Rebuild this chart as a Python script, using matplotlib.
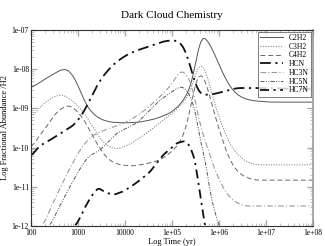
import numpy as np
import matplotlib
matplotlib.use("Agg")
import matplotlib.pyplot as plt
from matplotlib.ticker import FixedLocator, FixedFormatter, LogLocator, NullFormatter

plt.rcParams['font.family'] = ['Liberation Serif', 'DejaVu Serif']

# ---- data (log10 time [yr], log10 abundance) ----
c2h2_lt = [2.00, 2.30, 2.51, 2.68, 2.83, 3.00, 3.15, 3.30, 3.47, 3.68, 4.00, 4.32, 4.64, 4.96, 5.17,
           5.34, 5.45, 5.53, 5.62, 5.72, 5.87, 6.02, 6.17, 6.34, 6.55, 6.77, 7.09, 8.00]
c2h2_ly = [-8.48, -8.25, -8.10, -7.99, -8.04, -8.40, -8.86, -9.12, -9.27, -9.35, -9.37, -9.35, -9.27,
           -9.12, -8.91, -8.61, -8.22, -7.64, -7.15, -7.20, -7.51, -7.94, -8.32, -8.61, -8.76, -8.81,
           -8.84, -8.84]

c3h2_lt = [2.00, 2.19, 2.40, 2.57, 2.70, 2.87, 3.04, 3.19, 3.32, 3.47, 3.64, 3.85, 4.11, 4.43, 4.74,
           5.06, 5.28, 5.43, 5.53, 5.60, 5.68, 5.77, 5.85, 5.96, 6.06, 6.19, 6.34, 6.55, 6.77, 8.00]
c3h2_ly = [-9.24, -8.96, -8.76, -8.66, -8.66, -8.79, -8.99, -9.22, -9.47, -9.78, -9.98, -10.04, -9.91,
           -9.66, -9.37, -9.07, -8.81, -8.45, -8.00, -7.84, -7.94, -8.22, -8.66, -9.09, -9.42, -9.81,
           -10.11, -10.34, -10.44, -10.44]

c4h2_lt = [2.00, 2.19, 2.36, 2.51, 2.66, 2.79, 2.94, 3.09, 3.21, 3.36, 3.51, 3.68, 3.89, 4.15, 4.43,
           4.74, 4.96, 5.17, 5.30, 5.38, 5.45, 5.55, 5.64, 5.72, 5.81, 5.91, 6.02, 6.13, 6.23, 6.38,
           6.55, 6.77, 8.00]
c4h2_ly = [-10.01, -9.68, -9.42, -9.14, -8.99, -8.91, -9.02, -9.22, -9.47, -9.81, -10.11, -10.34,
           -10.44, -10.47, -10.42, -10.32, -10.14, -9.88, -9.50, -9.09, -8.58, -8.15, -8.10, -8.33,
           -8.71, -9.17, -9.60, -10.01, -10.32, -10.60, -10.75, -10.83, -10.83]

hcn_lt = [2.00, 2.15, 2.40, 2.68, 2.94, 3.15, 3.32, 3.47, 3.64, 3.79, 4.00, 4.21, 4.53, 4.85, 5.09,
          5.21, 5.30, 5.38, 5.49, 5.57, 5.70, 5.91, 6.13, 6.38, 6.87, 8.00]
hcn_ly = [-10.24, -9.98, -9.81, -9.60, -9.40, -9.04, -8.61, -8.28, -8.02, -7.84, -7.66, -7.54, -7.41,
          -7.28, -7.26, -7.36, -7.56, -7.89, -8.35, -8.61, -8.66, -8.63, -8.56, -8.48, -8.48, -8.51]

hc3n_lt = [2.26, 2.40, 2.62, 2.83, 3.04, 3.26, 3.47, 3.68, 3.89, 4.11, 4.43, 4.74, 5.02, 5.17, 5.30,
           5.43, 5.49, 5.55, 5.66, 5.81, 5.91, 6.02, 6.13, 6.34, 6.55, 6.77, 8.00]
hc3n_ly = [-12.00, -11.59, -11.03, -10.52, -10.06, -9.73, -9.60, -9.50, -9.42, -9.30, -9.04, -8.71,
           -8.35, -8.02, -8.12, -8.40, -8.79, -9.17, -9.68, -10.19, -10.57, -10.85, -11.13, -11.39,
           -11.49, -11.49, -11.49]

hc5n_lt = [2.40, 2.57, 2.79, 3.00, 3.21, 3.47, 3.83, 4.26, 4.74, 5.11, 5.23, 5.34, 5.45, 5.53, 5.60,
           5.70, 5.81, 5.91, 6.00, 6.10]
hc5n_ly = [-12.00, -11.59, -11.08, -10.62, -10.24, -10.06, -9.63, -9.37, -8.79, -8.48, -8.45, -8.58,
           -8.86, -9.30, -9.81, -10.27, -11.13, -11.64, -12.00, -12.30]

hc7n_lt = [2.94, 3.04, 3.15, 3.30, 3.43, 3.57, 3.74, 3.94, 4.11, 4.32, 4.53, 4.81, 5.11, 5.28, 5.38,
           5.49, 5.55, 5.62, 5.70, 5.74]
hc7n_ly = [-12.00, -11.80, -11.52, -11.21, -11.03, -11.13, -11.21, -11.13, -11.01, -10.83, -10.62,
           -10.19, -9.88, -9.83, -9.96, -10.32, -10.83, -11.34, -12.00, -12.20]

species = ['C2H2', 'C3H2', 'C4H2', 'HCN', 'HC3N', 'HC5N', 'HC7N']

x_ticks = [1e2, 1e3, 1e4, 1e5, 1e6, 1e7, 1e8]
x_ticklabels = ['100', '1000', '10000', '1e+05', '1e+06', '1e+07', '1e+08']
y_ticks = [1e-12, 1e-11, 1e-10, 1e-9, 1e-8, 1e-7]
y_ticklabels = ['1e-12', '1e-11', '1e-10', '1e-09', '1e-08', '1e-07']

title = 'Dark Cloud Chemistry'
xlabel = 'Log Time (yr)'
ylabel = 'Log Fractional Abundance /H2'

# ---- styles ----
styles = {
    'C2H2': dict(color='#555555', lw=0.7, ls='-'),
    'C3H2': dict(color='#8a8a8a', lw=0.8, ls=(0, (1, 1.3))),
    'C4H2': dict(color='#666666', lw=0.7, ls=(0, (5, 3))),
    'HCN':  dict(color='#111111', lw=1.3, ls=(0, (6, 2.5, 1.2, 2.5))),
    'HC3N': dict(color='#9a9a9a', lw=0.8, ls=(0, (5, 2, 1, 2))),
    'HC5N': dict(color='#555555', lw=0.7, ls=(0, (4, 1.5, 1, 1.5, 1, 1.5))),
    'HC7N': dict(color='#111111', lw=1.3, ls=(0, (5, 2.5, 1.2, 2.5))),
}
data = {
    'C2H2': (c2h2_lt, c2h2_ly), 'C3H2': (c3h2_lt, c3h2_ly), 'C4H2': (c4h2_lt, c4h2_ly),
    'HCN': (hcn_lt, hcn_ly), 'HC3N': (hc3n_lt, hc3n_ly), 'HC5N': (hc5n_lt, hc5n_ly),
    'HC7N': (hc7n_lt, hc7n_ly),
}

fig = plt.figure(figsize=(3.25, 2.46), dpi=100)
ax = fig.add_axes([31/325, 1-226/246, 282/325, 196/246])

for name in species:
    lt, ly = data[name]
    lt = np.array(lt); ly = np.array(ly)
    # smooth via interpolation in log space
    tt = np.linspace(lt[0], lt[-1], 400)
    yy = np.interp(tt, lt, ly)
    k = 6
    yy_s = np.convolve(np.pad(yy, k, mode='edge'), np.ones(2*k+1)/(2*k+1), mode='same')[k:-k]
    ax.plot(10**tt, 10**yy_s, label=name, **styles[name])

ax.set_xscale('log'); ax.set_yscale('log')
ax.set_xlim(1e2, 1e8); ax.set_ylim(1e-12, 1e-7)
ax.xaxis.set_major_locator(FixedLocator(x_ticks))
ax.xaxis.set_major_formatter(FixedFormatter(x_ticklabels))
ax.yaxis.set_major_locator(FixedLocator(y_ticks))
ax.yaxis.set_major_formatter(FixedFormatter(y_ticklabels))
ax.xaxis.set_minor_locator(LogLocator(base=10, subs=np.arange(2, 10)))
ax.yaxis.set_minor_locator(LogLocator(base=10, subs=np.arange(2, 10)))
ax.xaxis.set_minor_formatter(NullFormatter()); ax.yaxis.set_minor_formatter(NullFormatter())
ax.tick_params(which='both', direction='in', top=True, right=True, labelsize=5.5,
               color='#aaaaaa')
ax.tick_params(axis='y', pad=1.5)
ax.tick_params(axis='x', pad=2.5)
ax.tick_params(which='major', length=4, width=1.0)
ax.tick_params(which='minor', length=2, width=0.5)
for s in ax.spines.values():
    s.set_linewidth(0.8); s.set_color('#333333')
ax.spines['right'].set_color('#999999'); ax.spines['right'].set_linewidth(1.2)

ax.set_title(title, fontsize=8, pad=8.5)
ax.set_xlabel(xlabel, fontsize=6, labelpad=0.5)
ax.set_ylabel(ylabel, fontsize=6, labelpad=2)

leg = ax.legend(loc='upper right', fontsize=5.5, frameon=True, fancybox=False, borderpad=0.3,
                labelspacing=0.1, handlelength=3.0, handletextpad=0.8, borderaxespad=0.2)
leg.get_frame().set_edgecolor('#444444'); leg.get_frame().set_linewidth(0.6)

fig.savefig('out.png', dpi=100)
